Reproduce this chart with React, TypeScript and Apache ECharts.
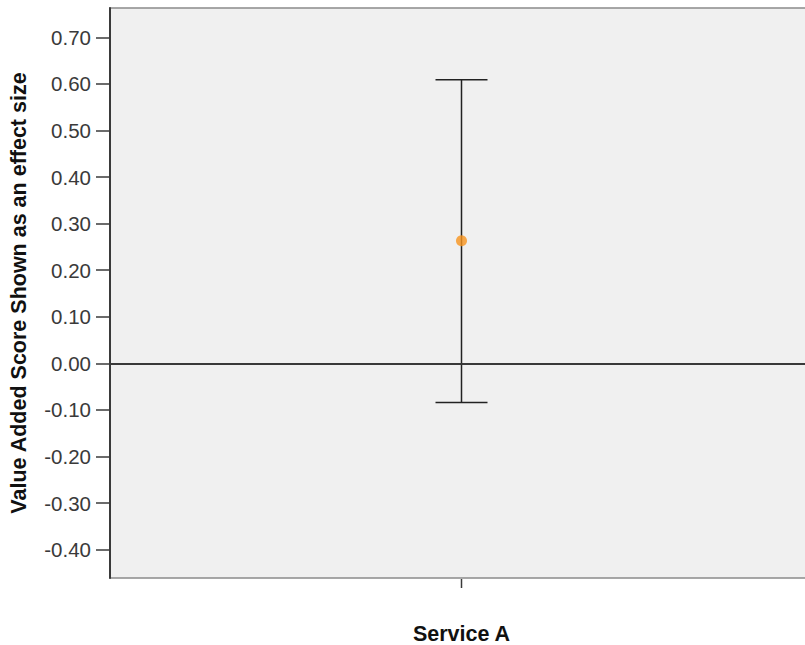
import React, { useEffect, useRef } from "react";
import * as echarts from "echarts";

const categories: string[] = ["Service A"];
const meanValues: number[] = [0.263];
const lowerValues: number[] = [-0.084];
const upperValues: number[] = [0.609];
const yTickValues: number[] = [-0.4, -0.3, -0.2, -0.1, 0, 0.1, 0.2, 0.3, 0.4, 0.5, 0.6, 0.7];
const yAxisTitle = "Value Added Score Shown as an effect size";

export default function App() {
  const ref = useRef<HTMLDivElement>(null);
  useEffect(() => {
    if (!ref.current) return;
    const chart = echarts.init(ref.current, null, { renderer: "svg" });
    const font = "Arial, 'Liberation Sans', sans-serif";
    chart.setOption({
      animation: false,
      backgroundColor: "#ffffff",
      grid: {
        left: 110,
        top: 8,
        width: 703,
        height: 570,
        outerBoundsMode: "none",
        containLabel: false,
        show: true,
        backgroundColor: "#f0f0f0",
        borderColor: "#8a8a8a",
        borderWidth: 1.5,
      },
      xAxis: {
        type: "category",
        data: categories,
        boundaryGap: true,
        axisLine: { show: true, lineStyle: { color: "#3a3a3a", width: 2 } },
        axisTick: { show: false },
        axisLabel: { margin: 45, fontSize: 21.5, fontWeight: "bold", color: "#111", fontFamily: font },
        splitLine: { show: false },
      },
      yAxis: {
        type: "value",
        min: -0.461,
        max: 0.763,
        name: yAxisTitle,
        nameLocation: "middle",
        nameGap: 80,
        nameTextStyle: { fontSize: 21.5, fontWeight: "bold", color: "#111", fontFamily: font },
        axisLine: { show: true, lineStyle: { color: "#3a3a3a", width: 2 } },
        axisTick: { show: true, length: 14, customValues: yTickValues, lineStyle: { color: "#3a3a3a", width: 1.5 } },
        axisLabel: {
          margin: 19,
          fontSize: 20.5,
          color: "#3a3a3a",
          fontFamily: font,
          customValues: yTickValues,
          formatter: (v: number) => (Math.abs(v) < 1e-9 ? 0 : v).toFixed(2),
        },
        splitLine: { show: false },
      },
      series: [
        {
          type: "scatter",
          data: categories.map((c, i) => [i, meanValues[i]]),
          symbol: "circle",
          symbolSize: 11,
          itemStyle: { color: "#f7941d" },
          z: 5,
          markLine: {
            silent: true,
            symbol: "none",
            label: { show: false },
            lineStyle: { color: "#3a3a3a", width: 1.5, type: "solid" },
            data: [{ yAxis: 0 }],
          },
        },
        {
          type: "custom",
          clip: false,
          data: categories.map((c, i) => [i, lowerValues[i], upperValues[i]]),
          renderItem: (params: any, api: any) => {
            const x = api.value(0);
            const lo = api.coord([x, api.value(1)]);
            const hi = api.coord([x, api.value(2)]);
            const cs = params.coordSys;
            const axisY = cs.y + cs.height;
            const half = 26;
            const style = { stroke: "#222", lineWidth: 1.5, fill: "none" };
            const tickStyle = { stroke: "#3a3a3a", lineWidth: 1.5, fill: "none" };
            return {
              type: "group",
              children: [
                { type: "line", shape: { x1: hi[0], y1: hi[1], x2: hi[0], y2: lo[1] }, style },
                { type: "line", shape: { x1: hi[0] - half, y1: hi[1], x2: hi[0] + half, y2: hi[1] }, style },
                { type: "line", shape: { x1: lo[0] - half, y1: lo[1], x2: lo[0] + half, y2: lo[1] }, style },
                { type: "line", shape: { x1: lo[0], y1: axisY + 1, x2: lo[0], y2: axisY + 10 }, style: tickStyle },
              ],
            };
          },
          z: 4,
        },
      ],
    });
    return () => chart.dispose();
  }, []);
  return <div ref={ref} style={{ position: "fixed", left: 0, top: 0, width: 805, height: 645 }} />;
}
